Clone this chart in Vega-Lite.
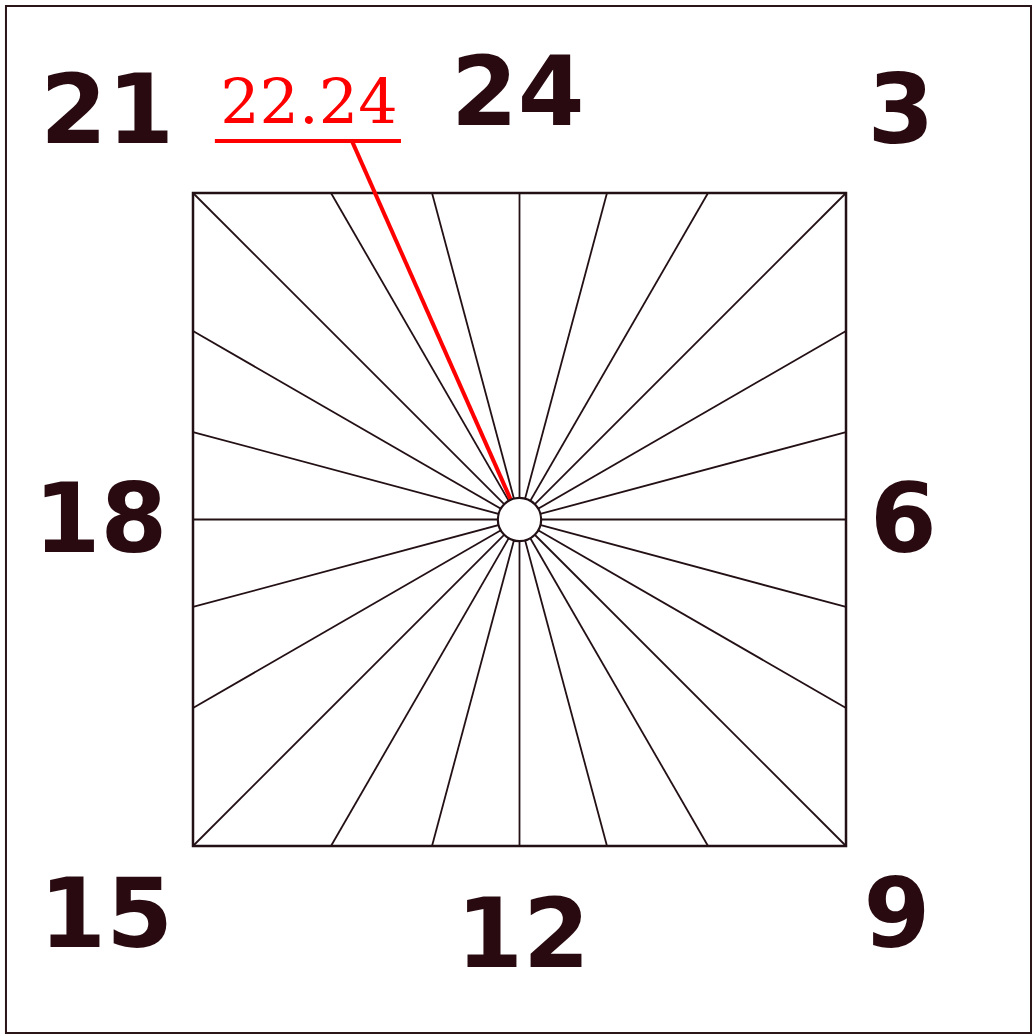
{
  "$schema": "https://vega.github.io/schema/vega-lite/v6.json",
  "width": 1033,
  "height": 1035,
  "autosize": {"type": "fit", "contains": "padding"},
  "padding": 0,
  "background": "white",
  "config": {"view": {"stroke": null}},
  "datasets": {
    "frame": [{"x": -1.5728, "x2": 1.5666, "y": 1.5727, "y2": -1.5727}],
    "square": [{"x": -1, "x2": 1, "y": 1, "y2": -1}],
    "rays": [
      {"x": 0, "y": 0, "ex": -1, "ey": 1},
      {"x": 0, "y": 0, "ex": -0.57735, "ey": 1},
      {"x": 0, "y": 0, "ex": -0.26795, "ey": 1},
      {"x": 0, "y": 0, "ex": 0, "ey": 1},
      {"x": 0, "y": 0, "ex": 0.26795, "ey": 1},
      {"x": 0, "y": 0, "ex": 0.57735, "ey": 1},
      {"x": 0, "y": 0, "ex": 1, "ey": 1},
      {"x": 0, "y": 0, "ex": 1, "ey": 0.57735},
      {"x": 0, "y": 0, "ex": 1, "ey": 0.26795},
      {"x": 0, "y": 0, "ex": 1, "ey": 0},
      {"x": 0, "y": 0, "ex": 1, "ey": -0.26795},
      {"x": 0, "y": 0, "ex": 1, "ey": -0.57735},
      {"x": 0, "y": 0, "ex": 1, "ey": -1},
      {"x": 0, "y": 0, "ex": 0.57735, "ey": -1},
      {"x": 0, "y": 0, "ex": 0.26795, "ey": -1},
      {"x": 0, "y": 0, "ex": 0, "ey": -1},
      {"x": 0, "y": 0, "ex": -0.26795, "ey": -1},
      {"x": 0, "y": 0, "ex": -0.57735, "ey": -1},
      {"x": 0, "y": 0, "ex": -1, "ey": -1},
      {"x": 0, "y": 0, "ex": -1, "ey": -0.57735},
      {"x": 0, "y": 0, "ex": -1, "ey": -0.26795},
      {"x": 0, "y": 0, "ex": -1, "ey": 0},
      {"x": 0, "y": 0, "ex": -1, "ey": 0.26795},
      {"x": 0, "y": 0, "ex": -1, "ey": 0.57735}
    ],
    "hand": [
      {"x": 0, "y": 0, "ex": -0.513, "ey": 1.159},
      {"x": -0.933, "y": 1.159, "ex": -0.363, "ey": 1.159}
    ],
    "hub": [{"x": 0, "y": 0}],
    "labels": [
      {"label": "21", "x": -1.263, "y": 1.153},
      {"label": "24", "x": -0.005, "y": 1.208},
      {"label": "3", "x": 1.168, "y": 1.153},
      {"label": "18", "x": -1.283, "y": -0.0995},
      {"label": "6", "x": 1.176, "y": -0.0995},
      {"label": "15", "x": -1.266, "y": -1.309},
      {"label": "12", "x": 0.011, "y": -1.3706},
      {"label": "9", "x": 1.156, "y": -1.309}
    ],
    "time": [{"label": "22.24", "x": -0.645, "y": 1.214}]
  },
  "layer": [
    {
      "data": {"name": "frame"},
      "mark": {"type": "rect", "fill": null, "stroke": "#2a1518", "strokeWidth": 2},
      "encoding": {
        "x": {"field": "x", "type": "quantitative", "scale": {"domain": [-1.5911, 1.5727], "nice": false, "zero": false}, "axis": null},
        "x2": {"field": "x2"},
        "y": {"field": "y", "type": "quantitative", "scale": {"domain": [-1.5789, 1.5911], "nice": false, "zero": false}, "axis": null},
        "y2": {"field": "y2"}
      }
    },
    {
      "data": {"name": "rays"},
      "mark": {"type": "rule", "stroke": "#231015", "strokeWidth": 1.8},
      "encoding": {
        "x": {"field": "x", "type": "quantitative"},
        "y": {"field": "y", "type": "quantitative"},
        "x2": {"field": "ex"},
        "y2": {"field": "ey"}
      }
    },
    {
      "data": {"name": "square"},
      "mark": {"type": "rect", "fill": null, "stroke": "#231015", "strokeWidth": 2.5},
      "encoding": {
        "x": {"field": "x", "type": "quantitative"},
        "x2": {"field": "x2"},
        "y": {"field": "y", "type": "quantitative"},
        "y2": {"field": "y2"}
      }
    },
    {
      "data": {"name": "hand"},
      "mark": {"type": "rule", "stroke": "#ff0000", "strokeWidth": 4},
      "encoding": {
        "x": {"field": "x", "type": "quantitative"},
        "y": {"field": "y", "type": "quantitative"},
        "x2": {"field": "ex"},
        "y2": {"field": "ey"}
      }
    },
    {
      "data": {"name": "hub"},
      "mark": {"type": "point", "shape": "circle", "filled": true, "fill": "white", "stroke": "#231015", "strokeWidth": 2.2, "size": 1880, "opacity": 1},
      "encoding": {
        "x": {"field": "x", "type": "quantitative"},
        "y": {"field": "y", "type": "quantitative"}
      }
    },
    {
      "data": {"name": "labels"},
      "mark": {"type": "text", "font": "DejaVu Sans", "fontWeight": "bold", "fontSize": 96, "align": "center", "baseline": "alphabetic", "color": "#280a10"},
      "encoding": {
        "x": {"field": "x", "type": "quantitative"},
        "y": {"field": "y", "type": "quantitative"},
        "text": {"field": "label"}
      }
    },
    {
      "data": {"name": "time"},
      "mark": {"type": "text", "font": "DejaVu Serif", "fontSize": 62, "align": "center", "baseline": "alphabetic", "color": "#ff0000"},
      "encoding": {
        "x": {"field": "x", "type": "quantitative"},
        "y": {"field": "y", "type": "quantitative"},
        "text": {"field": "label"}
      }
    }
  ]
}
